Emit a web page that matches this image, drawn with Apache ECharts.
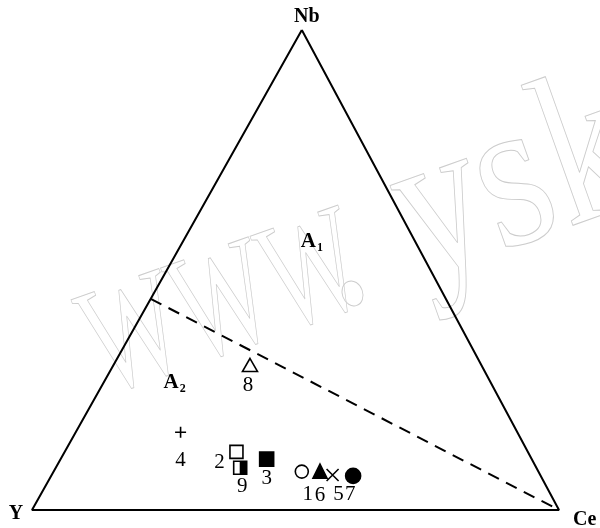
<!DOCTYPE html>
<html><head><meta charset="utf-8">
<script src="https://cdn.jsdelivr.net/npm/echarts@6/dist/echarts.min.js"></script>
<style>html,body{margin:0;padding:0;background:#fff}#c{width:600px;height:528px}</style>
</head><body><div id="c"></div>
<script>
// ---- data (ternary percentages) ----
const sampleIds = ['1','2','3','4','5','6','7','8','9'];
const nbPct = [8.0, 12.1, 10.6, 16.2, 7.3, 8.1, 7.1, 30.2, 8.8];
const yPct  = [44.9, 55.3, 50.3, 63.9, 39.4, 41.4, 35.6, 43.9, 56.2];
const cePct = [47.1, 32.6, 39.1, 19.9, 53.3, 50.5, 57.3, 25.9, 35.0];

const vertexNames = ['Nb', 'Y', 'Ce'];
const vertexNb = [100, 0, 0];
const vertexY  = [0, 100, 0];
const vertexCe = [0, 0, 100];

const dividerNb = [44, 0];
const dividerY  = [56, 0];
const dividerCe = [0, 100];

const fieldNames = ['1', '2'];
const fieldNb = [55.9, 26.5];
const fieldY  = [19.6, 60.0];
const fieldCe = [24.5, 13.5];

// ---- layout / style ----
const APEX = 0.512;   // horizontal position of Nb apex along the base
function toXY(nb, y, ce) {
  const s = nb + y + ce; nb /= s; ce /= s;
  return [(ce + nb * APEX) * 100, nb * 100];
}
const FONT = '"Liberation Serif", "Times New Roman", serif';
const BLACK = '#000';

const symbolStyle = {
  '1': {symbol: 'circle', size: 13, fill: '#fff'},
  '2': {symbol: 'rect', size: 13, fill: '#fff'},
  '3': {symbol: 'rect', size: 14, fill: BLACK},
  '4': {symbol: 'path://M5,0L5,10M0,5L10,5', size: 11, fill: 'none'},
  '5': {symbol: 'path://M0,0L10,10M10,0L0,10', size: 12, fill: 'none'},
  '6': {symbol: 'triangle', size: [14, 14], fill: BLACK},
  '7': {symbol: 'circle', size: 15, fill: BLACK},
  '8': {symbol: 'triangle', size: [15, 13], fill: '#fff'},
  '9': {symbol: 'rect', size: 13, fill: '#fff'}
};
const labelOffsets = {
  '1': [6, 23], '2': [-17, 11], '3': [0, 19], '4': [0, 28], '5': [6, 20],
  '6': [0, 24], '7': [-3, 19], '8': [-2, 20], '9': [2, 19]
};

const sampleData = sampleIds.map((id, i) => {
  const st = symbolStyle[id];
  return {
    name: id,
    value: toXY(nbPct[i], yPct[i], cePct[i]),
    symbol: st.symbol,
    symbolSize: st.size,
    itemStyle: {color: st.fill, borderColor: BLACK, borderWidth: 1.6, opacity: 1},
    label: {offset: labelOffsets[id]}
  };
});
const halfIdx = sampleIds.indexOf('9');
const halfData = [{value: toXY(nbPct[halfIdx], yPct[halfIdx], cePct[halfIdx])}];

const frameData = [0, 1, 2, 0].map(i => toXY(vertexNb[i], vertexY[i], vertexCe[i]));
const dividerData = dividerNb.map((v, i) => toXY(dividerNb[i], dividerY[i], dividerCe[i]));

const vertexLabelPos = {
  'Nb': {offset: [5, -13], align: 'center'},
  'Y': {offset: [-16, 4], align: 'center'},
  'Ce': {offset: [14, 10], align: 'left'}
};
const vertexData = vertexNames.map((n, i) => ({
  name: n, value: toXY(vertexNb[i], vertexY[i], vertexCe[i]),
  label: {offset: vertexLabelPos[n].offset, align: vertexLabelPos[n].align}
}));
const fieldData = fieldNames.map((n, i) => ({name: n, value: toXY(fieldNb[i], fieldY[i], fieldCe[i])}));

// ---- watermark (decoration) ----
const wmChars = ['W', 'W', 'W', '.', 'y', 's', 'k'];
const wmD = [0, 95, 190, 246, 337, 420, 493];
const wmSize = [155, 155, 155, 215, 215, 215, 215];
const wmScale = [0.64, 0.64, 0.64, 0.8, 0.78, 0.85, 0.8];
const th = 19.6 * Math.PI / 180, cth = Math.cos(th), sth = Math.sin(th);
const watermark = wmChars.map((ch, i) => {
  const bx = 108 + cth * wmD[i], by = 404 - sth * wmD[i];
  const up = 0.32 * wmSize[i];
  return {
    type: 'text', x: bx - sth * up, y: by - cth * up, rotation: th, scaleX: wmScale[i],
    z: 0, silent: true,
    style: {text: ch, font: wmSize[i] + 'px ' + FONT, fill: 'rgba(0,0,0,0)', stroke: '#cccccc',
      lineWidth: 1, textAlign: 'left', textVerticalAlign: 'middle', align: 'left', verticalAlign: 'middle'}
  };
});

const chart = echarts.init(document.getElementById('c'), null, {renderer: 'canvas'});
chart.setOption({
  animation: false,
  backgroundColor: '#fff',
  graphic: watermark,
  grid: {left: 32, right: 41, top: 30, bottom: 18},
  xAxis: {type: 'value', min: 0, max: 100, show: false},
  yAxis: {type: 'value', min: 0, max: 100, show: false},
  series: [
    {type: 'line', data: frameData, symbol: 'none', z: 3,
     lineStyle: {color: BLACK, width: 2}},
    {type: 'line', data: dividerData, symbol: 'none', z: 3,
     lineStyle: {color: BLACK, width: 2, type: [12, 8]}},
    {type: 'scatter', data: sampleData, z: 5,
     label: {show: true, position: 'inside', formatter: '{b}', color: BLACK,
             fontSize: 21, fontFamily: FONT}},
    {type: 'scatter', data: halfData, z: 6, symbol: 'rect', symbolSize: [7, 13], symbolOffset: [3, 0],
     itemStyle: {color: BLACK, opacity: 1}},
    {type: 'scatter', data: vertexData, z: 5, symbol: 'circle', symbolSize: 1,
     itemStyle: {color: 'rgba(0,0,0,0)', opacity: 1},
     label: {show: true, position: 'inside', formatter: '{b}', color: BLACK,
             fontSize: 20, fontWeight: 'bold', fontFamily: FONT}},
    {type: 'scatter', data: fieldData, z: 5, symbol: 'circle', symbolSize: 1,
     itemStyle: {color: 'rgba(0,0,0,0)', opacity: 1},
     label: {show: true, position: 'inside', formatter: '{a|A}{s|{b}}', color: BLACK,
             rich: {
               a: {fontSize: 21, fontWeight: 'bold', fontFamily: FONT, color: BLACK, lineHeight: 22},
               s: {fontSize: 12, fontWeight: 'bold', fontFamily: FONT, color: BLACK, lineHeight: 22,
                   padding: [12, 0, 0, 1]}
             }}}
  ]
});
</script></body></html>
